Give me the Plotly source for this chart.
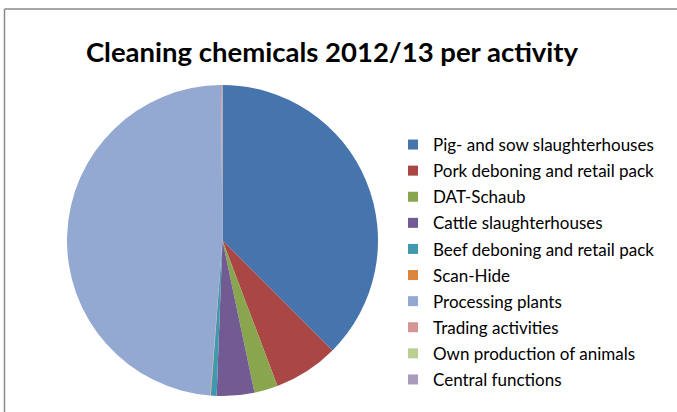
import plotly.graph_objects as go

# Cleaning chemicals consumption 2012/13, share per activity (%)
activities = [
    "Pig- and sow slaughterhouses",
    "Pork deboning and retail pack",
    "DAT-Schaub",
    "Cattle slaughterhouses",
    "Beef deboning and retail pack",
    "Scan-Hide",
    "Processing plants",
    "Trading activities",
    "Own production of animals",
    "Central functions",
]
shares = [37.5, 6.75, 2.45, 3.9, 0.6, 0.05, 48.6, 0.1, 0.02, 0.03]
colors = [
    "#4674AC", "#AA4744", "#89A54E", "#725A93", "#4199B0",
    "#DB843D", "#94A9D1", "#D49593", "#BACF91", "#A99BBE",
]

W, H = 677, 412

fig = go.Figure()
fig.add_trace(go.Pie(
    labels=activities,
    values=shares,
    marker=dict(colors=colors, line=dict(width=0)),
    sort=False,
    direction="clockwise",
    rotation=0,
    textinfo="none",
    hoverinfo="label+percent",
    showlegend=False,
    domain=dict(x=[67 / W, 378 / W], y=[1 - 396 / H, 1 - 85 / H]),
))

# Legend entries (square swatches) for each activity
for name, col in zip(activities, colors):
    fig.add_trace(go.Scatter(
        x=[None], y=[None], mode="markers",
        marker=dict(symbol="square", size=10, color=col),
        name=name, legendgroup=name, showlegend=True,
    ))

fig.update_layout(
    width=W, height=H,
    margin=dict(l=0, r=0, t=0, b=0),
    paper_bgcolor="white", plot_bgcolor="white",
    xaxis=dict(visible=False, domain=[0, 0.01]),
    yaxis=dict(visible=False, domain=[0, 0.01]),
    title=dict(
        text="Cleaning chemicals 2012/13 per activity",
        x=332 / W, xanchor="center",
        y=1 - 52 / H, yanchor="middle",
        font=dict(family="Lato", size=27.5, color="#000000", weight="bold"),
    ),
    legend=dict(
        x=393 / W, xanchor="left",
        y=1 - 127 / H, yanchor="top",
        font=dict(family="Lato", size=17, color="#000000"),
        traceorder="grouped",
        tracegroupgap=1,
        bgcolor="rgba(0,0,0,0)",
    ),
    # Chart frame: top and left edges only, the rest runs off the page
    shapes=[
        dict(type="line", xref="paper", yref="paper",
             x0=4.5 / W, x1=1, y0=1 - 9 / H, y1=1 - 9 / H,
             line=dict(color="#8A8A8A", width=1.5)),
        dict(type="line", xref="paper", yref="paper",
             x0=4.5 / W, x1=4.5 / W, y0=0, y1=1 - 9 / H,
             line=dict(color="#8A8A8A", width=1.5)),
    ],
)

fig.write_html("out.html", config={"displayModeBar": False})
